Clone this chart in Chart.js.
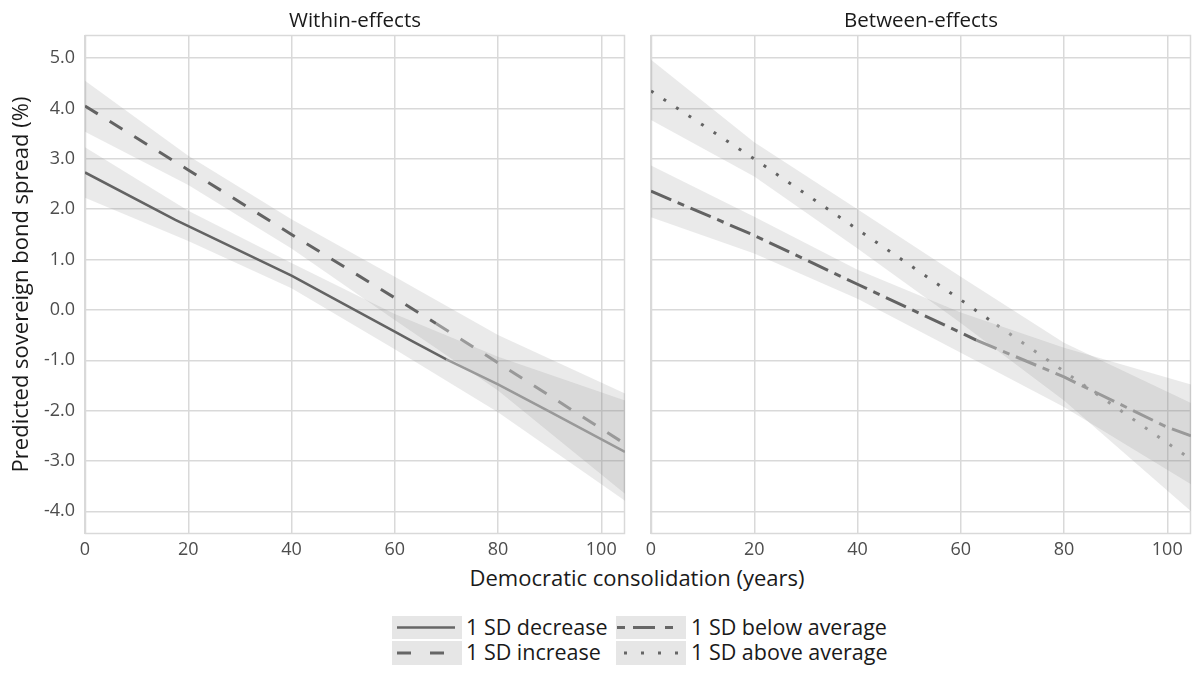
<!DOCTYPE html>
<html><head><meta charset="utf-8">
<script src="https://cdn.jsdelivr.net/npm/chart.js@4/dist/chart.umd.min.js"></script>
<style>
html,body{margin:0;padding:0;background:#fff;width:1195px;height:677px;overflow:hidden;font-family:'Open Sans',sans-serif;}
#wrap{position:relative;width:1195px;height:677px;}
canvas{position:absolute;top:0;}
.t{position:absolute;white-space:nowrap;color:#1a1a1a;font-size:21.5px;line-height:26px;}
.c{transform:translateX(-50%);}
.key{position:absolute;background:#e6e6e6;width:70px;}
.key svg{position:absolute;left:0;top:0;}
</style></head><body>
<div id="wrap">
<canvas id="left" width="640" height="560" style="left:0;width:640px;height:560px"></canvas>
<canvas id="right" width="555" height="560" style="left:640px;width:555px;height:560px"></canvas>
<div class="t c" style="left:355px;top:6px;font-size:20.5px">Within-effects</div>
<div class="t c" style="left:921px;top:6px;font-size:20.5px">Between-effects</div>
<div class="t c" style="left:637px;top:564px;font-size:22px">Democratic consolidation (years)</div>

<div class="key" style="left:392px;top:616px;height:23px"><svg width="70" height="23"><line x1="5" y1="11.5" x2="63" y2="11.5" stroke="#666" stroke-width="2.5"/></svg></div>
<div class="t" style="left:466px;top:614px">1 SD decrease</div>
<div class="key" style="left:392px;top:641px;height:24px"><svg width="70" height="24"><line x1="5" y1="12" x2="52" y2="12" stroke="#666" stroke-width="3" stroke-dasharray="14 19"/></svg></div>
<div class="t" style="left:466px;top:639px">1 SD increase</div>
<div class="key" style="left:616px;top:616px;height:23px"><svg width="70" height="23"><line x1="1" y1="11.5" x2="57" y2="11.5" stroke="#666" stroke-width="3" stroke-dasharray="8 8 22 10"/></svg></div>
<div class="t" style="left:691px;top:614px">1 SD below average</div>
<div class="key" style="left:616px;top:641px;height:24px"><svg width="70" height="24"><line x1="8" y1="12" x2="62" y2="12" stroke="#666" stroke-width="3" stroke-dasharray="3 14"/></svg></div>
<div class="t" style="left:691px;top:639px">1 SD above average</div>
</div>
<script>
// ---- axis ticks ----
const xTickValues = [0, 20, 40, 60, 80, 100];
const yTickValues = [-4, -3, -2, -1, 0, 1, 2, 3, 4, 5];
const xRange = [0, 104.6];
const yRange = [-4.45, 5.46];

// ---- Within-effects panel ----
const decX = [0, 17.5, 40, 60, 63, 70, 80, 90, 104.6];
const decY = [2.73, 1.79, 0.68, -0.43, -0.6, -0.98, -1.48, -2.02, -2.82];
const incX = [0, 20, 40, 60, 68, 80, 104.6];
const incY = [4.05, 2.78, 1.5, 0.24, -0.27, -1.05, -2.66];
const bandX = [0, 20, 40, 60, 80, 104.6];
const decUpper = [3.23, 1.97, 0.93, -0.08, -0.93, -1.8];
const decLower = [2.23, 1.37, 0.43, -0.78, -2.03, -3.79];
const incUpper = [4.55, 3.06, 1.8, 0.66, -0.5, -1.66];
const incLower = [3.54, 2.48, 1.22, -0.2, -1.6, -3.65];

// ---- Between-effects panel ----
const belowX = [0, 20, 40, 60, 63, 80, 100, 104.6];
const belowY = [2.36, 1.48, 0.51, -0.45, -0.6, -1.33, -2.33, -2.5];
const aboveX = [0, 20, 40, 60, 67, 80, 100, 104.6];
const aboveY = [4.35, 3.0, 1.6, 0.2, -0.3, -1.22, -2.64, -2.97];
const belowUpper = [2.87, 1.85, 0.8, -0.05, -0.75, -1.48];
const belowLower = [1.84, 1.12, 0.22, -0.85, -1.93, -3.46];
const aboveUpper = [4.97, 3.33, 2.0, 0.66, -0.65, -1.85];
const aboveLower = [3.77, 2.65, 1.22, -0.26, -1.8, -4.0];

// x from which each line lies under the other series' band (drawn lighter)
const fadeFrom = { dec: 70, inc: 68, below: 63, above: 67 };

const seriesNames = ['1 SD decrease', '1 SD increase', '1 SD below average', '1 SD above average'];

const DARK = '#636363', LIGHT = '#999999', GRID = '#d9d9d9', BAND = 'rgba(128,128,128,0.17)';
Chart.defaults.font.family = "'Open Sans', sans-serif";

const pts = (xs, ys) => xs.map((x, i) => ({ x: x, y: ys[i] }));

function lineDs(label, xs, ys, fade, dash, width) {
  return {
    label: label, data: pts(xs, ys), borderColor: DARK, borderWidth: width,
    borderDash: dash, borderCapStyle: 'butt', pointRadius: 0, tension: 0, fill: false,
    segment: { borderColor: ctx => (ctx.p0.parsed.x >= fade - 0.01 ? LIGHT : DARK) }
  };
}
function bandDs(xs, up, lo) {
  return [
    { label: 'upper', data: pts(xs, up), borderWidth: 0, borderColor: 'rgba(0,0,0,0)', pointRadius: 0, fill: '+1', backgroundColor: BAND, tension: 0 },
    { label: 'lower', data: pts(xs, lo), borderWidth: 0, borderColor: 'rgba(0,0,0,0)', pointRadius: 0, fill: false, tension: 0 }
  ];
}

const borderPlugin = {
  id: 'panelBorder',
  beforeDatasetsDraw(chart) {
    const a = chart.chartArea, c = chart.ctx;
    c.save(); c.strokeStyle = GRID; c.lineWidth = 1.5;
    c.strokeRect(Math.round(a.left) + 0.5, Math.round(a.top) + 0.5, Math.round(a.right - a.left) - 1, Math.round(a.bottom - a.top) - 1);
    c.restore();
  }
};

function makePanel(id, datasets, isLeft) {
  return new Chart(document.getElementById(id), {
    type: 'line',
    data: { datasets: datasets },
    options: {
      responsive: false, animation: false, devicePixelRatio: 1,
      layout: { padding: { top: 35, right: isLeft ? 15 : 4, left: 0, bottom: 0 } },
      plugins: { legend: { display: false }, tooltip: { enabled: false } },
      scales: {
        x: {
          type: 'linear', min: xRange[0], max: xRange[1],
          afterBuildTicks: s => { s.ticks = xTickValues.map(v => ({ value: v })); },
          afterFit: s => { s.height = 26; },
          grid: { color: GRID, lineWidth: 1.5, drawTicks: false },
          border: { display: false },
          ticks: { color: '#4d4d4d', font: { size: 18 }, padding: 5, maxRotation: 0, callback: v => String(v) }
        },
        y: {
          type: 'linear', min: yRange[0], max: yRange[1],
          afterBuildTicks: s => { s.ticks = yTickValues.map(v => ({ value: v })); },
          afterFit: s => { s.width = isLeft ? 85 : 11; },
          grid: { color: GRID, lineWidth: 1.5, drawTicks: false },
          border: { display: false },
          ticks: { display: isLeft, color: '#4d4d4d', font: { size: 18 }, padding: 10, callback: v => Number(v).toFixed(1) },
          title: { display: isLeft, text: 'Predicted sovereign bond spread (%)', color: '#1a1a1a', font: { size: 22 }, padding: { top: 9, bottom: 4 } }
        }
      }
    },
    plugins: [borderPlugin]
  });
}

makePanel('left', [
  lineDs(seriesNames[0], decX, decY, fadeFrom.dec, [], 2.5),
  lineDs(seriesNames[1], incX, incY, fadeFrom.inc, [15, 14], 3),
  ...bandDs(bandX, decUpper, decLower),
  ...bandDs(bandX, incUpper, incLower)
], true);

makePanel('right', [
  lineDs(seriesNames[2], belowX, belowY, fadeFrom.below, [22, 7, 7, 7], 3),
  lineDs(seriesNames[3], aboveX, aboveY, fadeFrom.above, [3, 12], 3),
  ...bandDs(bandX, belowUpper, belowLower),
  ...bandDs(bandX, aboveUpper, aboveLower)
], false);
</script>
</body></html>
